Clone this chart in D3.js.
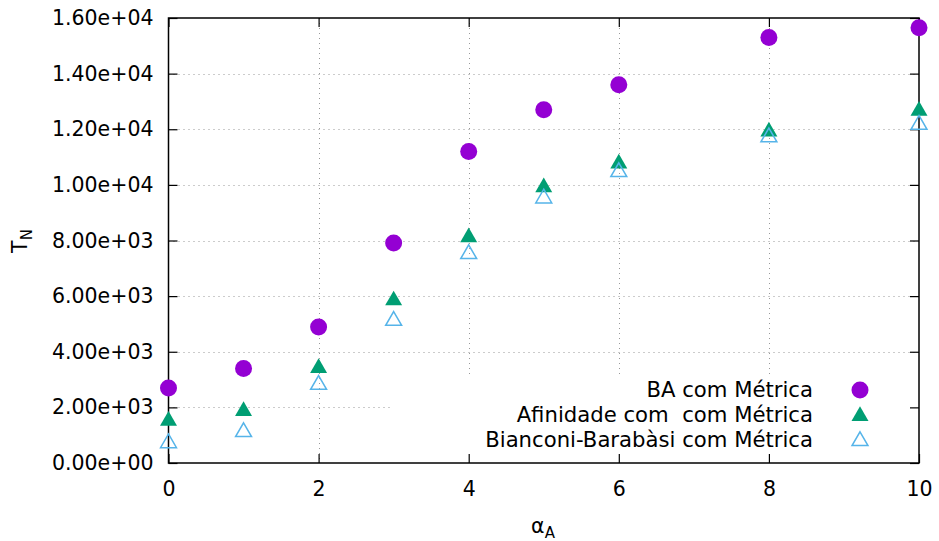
<!DOCTYPE html>
<html><head><meta charset="utf-8">
<script src="https://cdn.jsdelivr.net/npm/d3@7"></script>
<style>body{margin:0;background:#fff}svg{display:block;font-family:"DejaVu Sans",sans-serif}</style>
</head><body>
<svg id="c" width="939" height="541"></svg>
<script>
const alphaValues = [0, 1, 2, 3, 4, 5, 6, 8, 10];
const baValues = [2700, 3400, 4890, 7910, 11200, 12700, 13600, 15300, 15650];
const afinidadeValues = [1550, 1900, 3450, 5880, 8150, 9950, 10800, 11950, 12700];
const bianconiValues = [750, 1150, 2850, 5150, 7550, 9550, 10500, 11750, 12200];
const seriesNames = ["BA com Métrica", "Afinidade com  com Métrica", "Bianconi-Barabàsi com Métrica"];
const xTicks = [0, 2, 4, 6, 8, 10];
const yTicks = [0, 2000, 4000, 6000, 8000, 10000, 12000, 14000, 16000];

(function () {
const svg = d3.select("#c");
const L = 168.5, R = 919, T = 18, B = 463;
const x = d3.scaleLinear().domain([0, 10]).range([L, R]);
const y = d3.scaleLinear().domain([0, 16000]).range([B, T]);
const fmt = v => {
  if (v === 0) return "0.00e+00";
  const e = Math.floor(Math.log10(v));
  const m = v / Math.pow(10, e);
  return m.toFixed(2) + "e+" + String(e).padStart(2, "0");
};
const fs = 20.5;
const lfs = 21.2;

// grid
const grid = svg.append("g").attr("stroke", "#999").attr("stroke-width", 1).attr("stroke-dasharray", "1,4");
yTicks.slice(1, -1).forEach(v => grid.append("line").attr("x1", L).attr("x2", R).attr("y1", Math.round(y(v)) + 0.5).attr("y2", Math.round(y(v)) + 0.5));
xTicks.slice(1, -1).forEach(v => grid.append("line").attr("y1", T).attr("y2", B).attr("x1", Math.round(x(v)) + 0.5).attr("x2", Math.round(x(v)) + 0.5));

// opaque key box
svg.append("rect").attr("x", 393).attr("y", 378).attr("width", R - 393).attr("height", B - 378).attr("fill", "#fff");

// axes via d3
const ax = svg.append("g").attr("font-size", fs);
ax.append("g").attr("transform", `translate(0,${B})`).call(d3.axisBottom(x).tickValues(xTicks).tickSize(-9).tickPadding(18).tickFormat(d3.format("d")));
ax.append("g").attr("transform", `translate(0,${T})`).call(d3.axisTop(x).tickValues(xTicks).tickSize(-9).tickFormat(""));
ax.append("g").attr("transform", `translate(${L},0)`).call(d3.axisLeft(y).tickValues(yTicks).tickSize(-9).tickPadding(15).tickFormat(fmt));
ax.append("g").attr("transform", `translate(${R},0)`).call(d3.axisRight(y).tickValues(yTicks).tickSize(-9).tickFormat(""));
ax.selectAll(".domain").remove();
ax.selectAll("text").attr("fill", "#000").attr("font-family", "DejaVu Sans, sans-serif").attr("font-size", fs);
ax.selectAll(".tick line").attr("stroke", "#000").attr("stroke-width", 1.2);

// border
svg.append("rect").attr("x", L).attr("y", T).attr("width", R - L).attr("height", B - T).attr("fill", "none").attr("stroke", "#000").attr("stroke-width", 1.5);

// markers
const triFilled = d3.symbol().type(d3.symbolTriangle).size(125);
const triOpen = d3.symbol().type(d3.symbolTriangle).size(110);
const plot = svg.append("g");
plot.selectAll(".ba").data(alphaValues).join("circle")
  .attr("cx", (d) => x(d)).attr("cy", (d, i) => y(baValues[i])).attr("r", 8.5).attr("fill", "#9400d3");
plot.selectAll(".af").data(alphaValues).join("path")
  .attr("d", triFilled).attr("transform", (d, i) => `translate(${x(d)},${y(afinidadeValues[i]) + 1})`).attr("fill", "#009e73");
plot.selectAll(".bb").data(alphaValues).join("path")
  .attr("d", triOpen).attr("transform", (d, i) => `translate(${x(d)},${y(bianconiValues[i]) + 1})`).attr("fill", "none").attr("stroke", "#56b4e9").attr("stroke-width", 1.5);

// legend
const legend = svg.append("g").attr("font-size", lfs);
const rows = [390, 415, 440];
seriesNames.forEach((n, i) => {
  legend.append("text").attr("x", 813).attr("y", rows[i]).attr("dy", "0.35em").attr("text-anchor", "end").style("white-space", "pre").text(n);
});
legend.append("circle").attr("cx", 860).attr("cy", rows[0]).attr("r", 8.5).attr("fill", "#9400d3");
legend.append("path").attr("d", triFilled).attr("transform", `translate(860,${rows[1] + 1})`).attr("fill", "#009e73");
legend.append("path").attr("d", triOpen).attr("transform", `translate(860,${rows[2] + 1})`).attr("fill", "none").attr("stroke", "#56b4e9").attr("stroke-width", 1.5);

// axis titles
const xt = svg.append("text").attr("x", 543).attr("y", 533).attr("text-anchor", "middle").attr("font-size", fs);
xt.append("tspan").text("α");
xt.append("tspan").attr("font-size", 15).attr("dy", 5).text("A");
const yt = svg.append("text").attr("transform", "translate(27,241) rotate(-90)").attr("text-anchor", "middle").attr("font-size", fs);
yt.append("tspan").text("T");
yt.append("tspan").attr("font-size", 15).attr("dy", 5).text("N");
})();
</script>
</body></html>
